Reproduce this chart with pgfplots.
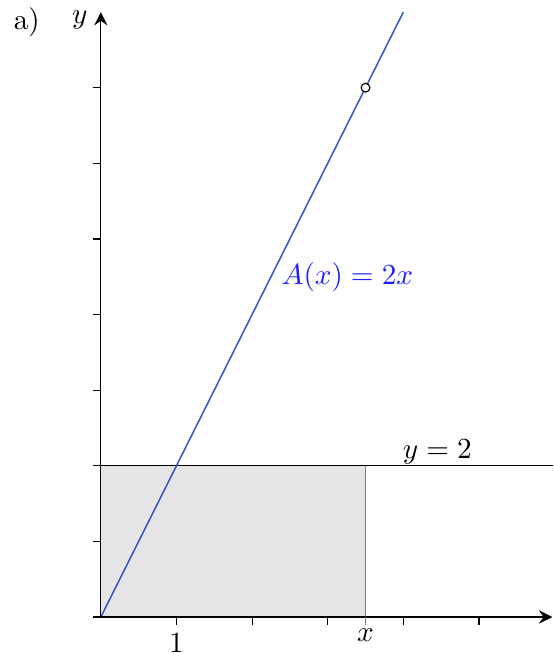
\documentclass[border=0pt]{standalone}
\usepackage{pgfplots}
\pgfplotsset{compat=1.18}
\usetikzlibrary{arrows.meta}
\definecolor{lineblue}{RGB}{40,85,205}
\definecolor{labelblue}{RGB}{30,30,255}
\begin{document}
\begin{tikzpicture}
\begin{axis}[
  x=25.9pt, y=25.9pt,
  axis lines=middle,
  axis on top,
  clip=false,
  xmin=-0.1, xmax=5.97,
  ymin=0, ymax=8,
  axis line style={-{Stealth[length=4.6pt,width=4.6pt,inset=1.6pt]}},
  tick align=outside,
  major tick length=2.8pt,
  tick style={black, line width=0.4pt},
  xtick={0,1,2,3,4,5},
  xticklabels={,$1$,,,,},
  xticklabel style={yshift=0.7pt},
  extra x ticks={3.5},
  extra x tick labels={$x$},
  extra x tick style={tick style={gray, line width=0.5pt}, xticklabel style={yshift=1.7pt}},
  ytick={1,2,3,4,5,6,7},
  yticklabels={},
  xlabel={}, ylabel={},
]
  % shaded area under y = 2 up to x
  \addplot[fill=black!10, draw=none] coordinates {(0,0) (3.5,0) (3.5,2) (0,2) (0,0)};
  \addplot[gray, line width=0.5pt] coordinates {(3.5,0) (3.5,2)};
  % the constant line y = 2
  \addplot[black, line width=0.4pt] coordinates {(0,2) (5.98,2)};
  % area function A(x) = 2x
  \addplot[lineblue, line width=0.5pt] coordinates {(0,0) (4,8)};
  \addplot[only marks, mark=*, mark size=1.5pt, mark options={fill=white, draw=black, line width=0.4pt}] coordinates {(3.5,7)};

  \node[labelblue] at (axis cs:3.26,4.50) {$A(x) = 2x$};
  \node at (axis cs:4.45,2.18) {$y = 2$};
  \node at (axis cs:-0.28,7.89) {$y$};
  \node at (axis cs:-0.98,7.86) {a)};

  \coordinate (bbl) at (axis cs:-1.334,-0.489);
  \coordinate (btr) at (axis cs:5.983,8.16);
\end{axis}
\pgfresetboundingbox
\path[use as bounding box] (bbl) rectangle (btr);
\end{tikzpicture}
\end{document}
